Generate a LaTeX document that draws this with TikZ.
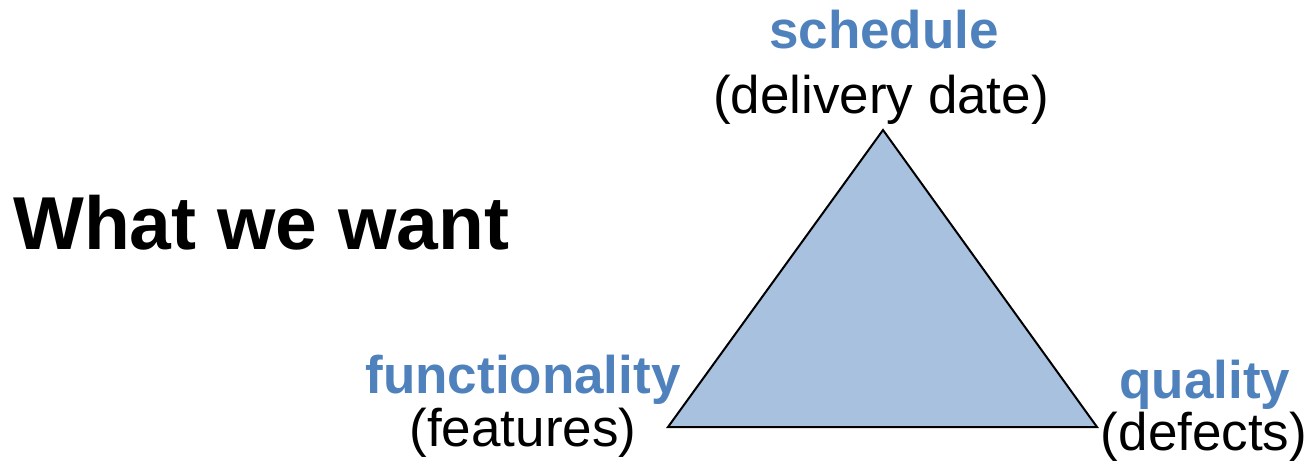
\documentclass[tikz,border=0pt]{standalone}
\usepackage{fontspec}
\setmainfont{Liberation Sans}
\usepackage{tikz}
\usetikzlibrary{positioning}
\definecolor{headblue}{HTML}{4F81BD}
\definecolor{trifill}{HTML}{A7C1DF}
\tikzset{
  head/.style={anchor=base,inner sep=0pt,text=headblue,font=\fontsize{53}{60}\selectfont\bfseries},
  sub/.style={anchor=base,inner sep=0pt,font=\fontsize{53}{60}\selectfont}
}

\begin{document}
\begin{tikzpicture}[x=1pt,y=-1pt]
\useasboundingbox (0,0) rectangle (1310,469);
% the triangle
\coordinate (apex) at (883,130);
\coordinate (left) at (668,427);
\coordinate (right) at (1097,427);
\draw[line width=2pt,fill=trifill,line join=miter] (apex) -- (right) -- (left) -- cycle;

\node[anchor=base west,inner sep=0pt,font=\fontsize{75}{80}\selectfont\bfseries] (want) at (13,249) {What we want};

\node[head] (sched) at (884,48) {schedule};
\node[sub] (date) at (881,113) {(delivery date)};
\node[head] (func) at (523,393) {functionality};
\node[sub] (feat) at (523,446) {(features)};
\node[head] (qual) at (1205,398) {quality};
\node[sub] (defe) at (1204,450) {(defects)};

\end{tikzpicture}
\end{document}
